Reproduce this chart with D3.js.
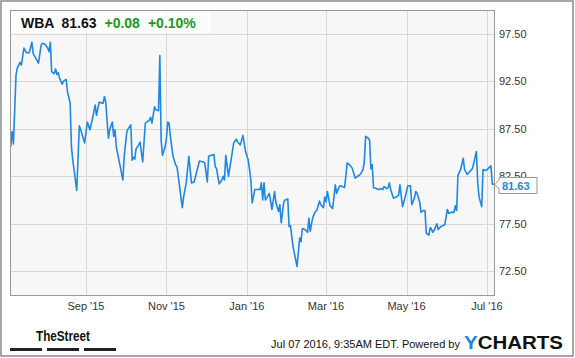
<!DOCTYPE html>
<html>
<head>
<meta charset="utf-8">
<script src="https://cdn.jsdelivr.net/npm/d3@7"></script>
<style>
  body { margin: 0; background: #fff; }
  svg { display: block; font-family: Arial, "Liberation Sans", sans-serif; }
</style>
</head>
<body>
<svg width="575" height="358"></svg>
<script>
// WBA daily close
const dates = [
  "2015-07-06","2015-07-07","2015-07-08","2015-07-10","2015-07-11","2015-07-13","2015-07-14","2015-07-16",
  "2015-07-17","2015-07-18","2015-07-20","2015-07-22","2015-07-23","2015-07-25","2015-07-27","2015-07-29",
  "2015-07-30","2015-08-01","2015-08-03","2015-08-04","2015-08-05","2015-08-06","2015-08-08","2015-08-09",
  "2015-08-10","2015-08-11","2015-08-12","2015-08-14","2015-08-15","2015-08-17","2015-08-18","2015-08-20",
  "2015-08-21","2015-08-22","2015-08-25","2015-08-27","2015-08-28","2015-08-31","2015-09-02","2015-09-04",
  "2015-09-06","2015-09-08","2015-09-09","2015-09-11","2015-09-13","2015-09-14","2015-09-15","2015-09-16",
  "2015-09-18","2015-09-19","2015-09-21","2015-09-22","2015-09-23","2015-09-24","2015-09-26","2015-09-29",
  "2015-09-30","2015-10-02","2015-10-03","2015-10-05","2015-10-06","2015-10-07","2015-10-08","2015-10-09",
  "2015-10-11","2015-10-12","2015-10-14","2015-10-16","2015-10-17","2015-10-19","2015-10-20","2015-10-21",
  "2015-10-23","2015-10-24","2015-10-26","2015-10-27","2015-10-28","2015-10-29","2015-10-31","2015-11-01",
  "2015-11-02","2015-11-03","2015-11-04","2015-11-06","2015-11-08","2015-11-09","2015-11-11","2015-11-13",
  "2015-11-14","2015-11-16","2015-11-18","2015-11-20","2015-11-22","2015-11-24","2015-11-26","2015-11-29",
  "2015-11-30","2015-12-02","2015-12-03","2015-12-05","2015-12-07","2015-12-08","2015-12-09","2015-12-11",
  "2015-12-13","2015-12-14","2015-12-15","2015-12-16","2015-12-18","2015-12-20","2015-12-22","2015-12-24",
  "2015-12-25","2015-12-27","2015-12-29","2015-12-31","2016-01-02","2016-01-03","2016-01-04","2016-01-05",
  "2016-01-07","2016-01-09","2016-01-11","2016-01-12","2016-01-13","2016-01-14","2016-01-15","2016-01-16",
  "2016-01-18","2016-01-20","2016-01-22","2016-01-23","2016-01-25","2016-01-26","2016-01-27","2016-01-29",
  "2016-01-30","2016-02-01","2016-02-02","2016-02-03","2016-02-05","2016-02-08","2016-02-10","2016-02-11",
  "2016-02-12","2016-02-14","2016-02-16","2016-02-17","2016-02-18","2016-02-19","2016-02-20","2016-02-22",
  "2016-02-23","2016-02-25","2016-02-26","2016-02-28","2016-02-29","2016-03-01","2016-03-02","2016-03-04",
  "2016-03-06","2016-03-08","2016-03-09","2016-03-11","2016-03-12","2016-03-15","2016-03-16","2016-03-17",
  "2016-03-19","2016-03-21","2016-03-23","2016-03-25","2016-03-27","2016-03-29","2016-03-30","2016-03-31",
  "2016-04-02","2016-04-03","2016-04-04","2016-04-05","2016-04-06","2016-04-08","2016-04-10","2016-04-12",
  "2016-04-13","2016-04-14","2016-04-16","2016-04-17","2016-04-18","2016-04-19","2016-04-21","2016-04-23",
  "2016-04-25","2016-04-26","2016-04-28","2016-04-30","2016-05-02","2016-05-04","2016-05-05","2016-05-07",
  "2016-05-08","2016-05-09","2016-05-11","2016-05-12","2016-05-14","2016-05-15","2016-05-16","2016-05-18",
  "2016-05-19","2016-05-20","2016-05-21","2016-05-22","2016-05-24","2016-05-25","2016-05-27","2016-05-30",
  "2016-06-01","2016-06-02","2016-06-04","2016-06-06","2016-06-07","2016-06-08","2016-06-09","2016-06-11",
  "2016-06-13","2016-06-14","2016-06-16","2016-06-18","2016-06-20","2016-06-21","2016-06-23","2016-06-24",
  "2016-06-25","2016-06-27","2016-06-28","2016-06-30","2016-07-01","2016-07-04","2016-07-05","2016-07-07"
];

const prices = [
  85.6, 87.2, 85.9, 93.2, 93.9, 94.5, 94.2, 96.0,
  95.7, 95.5, 95.5, 96.6, 95.4, 94.9, 94.4, 96.3,
  96.5, 96.4, 96.0, 95.6, 96.6, 93.5, 93.3, 93.8,
  93.2, 93.4, 92.8, 92.2, 92.5, 92.7, 91.4, 90.2,
  85.6, 84.2, 81.0, 87.8, 87.4, 86.0, 88.2, 87.4,
  88.6, 90.0, 88.9, 90.3, 90.2, 90.2, 90.9, 90.3,
  86.5, 87.4, 88.2, 86.7, 87.4, 85.6, 84.2, 82.1,
  84.6, 87.2, 87.5, 87.9, 84.2, 84.5, 84.3, 85.4,
  85.8, 86.1, 84.0, 88.1, 88.2, 88.4, 88.7, 88.1,
  89.8, 89.5, 89.4, 95.2, 86.3, 84.7, 85.6, 86.5,
  88.2, 88.1, 86.7, 84.6, 83.7, 83.5, 81.4, 79.2,
  80.3, 81.8, 84.6, 81.8, 81.9, 83.0, 84.1, 84.0,
  83.9, 81.9, 84.6, 84.7, 84.8, 83.5, 83.3, 81.7,
  82.1, 82.5, 82.1, 84.7, 82.5, 84.2, 86.0, 86.4,
  86.1, 85.8, 86.8, 85.1, 84.2, 83.2, 82.1, 79.7,
  81.1, 81.1, 81.1, 81.8, 80.0, 81.8, 80.0, 80.2,
  80.7, 79.0, 80.9, 79.7, 78.8, 79.5, 77.6, 79.8,
  80.0, 80.1, 77.2, 77.3, 75.1, 73.0, 76.0, 75.6,
  77.0, 76.9, 76.6, 78.1, 76.7, 77.5, 78.2, 78.8,
  78.9, 79.9, 79.5, 79.2, 80.3, 79.8, 80.9, 79.4,
  79.1, 81.6, 80.7, 81.4, 81.5, 81.3, 82.5, 83.9,
  83.7, 83.3, 82.3, 82.5, 82.7, 83.2, 84.0, 86.7,
  86.5, 86.3, 83.3, 83.7, 81.3, 81.2, 81.1, 81.2,
  81.1, 81.4, 81.2, 81.3, 81.8, 81.1, 80.2, 80.3,
  80.5, 81.6, 79.3, 80.3, 81.5, 81.5, 79.5, 80.2,
  80.9, 80.7, 79.8, 78.7, 78.9, 78.9, 76.5, 76.3,
  77.1, 76.9, 76.6, 76.8, 77.5, 76.9, 77.2, 77.4,
  79.0, 78.6, 78.7, 78.7, 79.4, 78.9, 82.6, 83.2,
  84.4, 83.2, 82.7, 83.0, 83.3, 83.9, 85.1, 81.8,
  80.3, 79.3, 83.2, 83.1, 83.2, 83.6, 81.7, 81.63
];

const yTicks = [72.5, 77.5, 82.5, 87.5, 92.5, 97.5];
const ticker = "WBA";
const lastPrice = "81.63";
const change = "+0.08";
const changePct = "+0.10%";
const stamp = "Jul 07 2016, 9:35AM EDT. Powered by";

const parse = d3.timeParse("%Y-%m-%d");
const data = dates.map((d, i) => ({ date: parse(d), value: prices[i] }));

const svg = d3.select("svg");
const plot = { left: 10, top: 10, right: 495, bottom: 295 };

const x = d3.scaleTime()
  .domain([new Date(2015, 6, 5, 10), new Date(2016, 6, 7, 2)])
  .range([plot.left, plot.right]);
const y = d3.scaleLinear().domain([70, 100]).range([plot.bottom, plot.top]);

// outer frame
svg.append("rect")
  .attr("x", 1).attr("y", 1).attr("width", 572).attr("height", 355)
  .attr("fill", "#fff").attr("stroke", "#8a8a8a").attr("stroke-width", 1.5);

// plot background
svg.append("rect")
  .attr("x", plot.left).attr("y", plot.top)
  .attr("width", plot.right - plot.left).attr("height", plot.bottom - plot.top)
  .attr("fill", "#f7f7f7");

const xTicks = x.ticks(d3.timeMonth.every(2));

svg.append("g")
  .selectAll("line.v")
  .data(xTicks)
  .join("line")
  .attr("x1", (d) => Math.round(x(d)) + 0.5).attr("x2", (d) => Math.round(x(d)) + 0.5)
  .attr("y1", plot.top).attr("y2", plot.bottom)
  .attr("stroke", "#d8d8d8");

svg.append("g")
  .selectAll("line.h")
  .data(yTicks)
  .join("line")
  .attr("x1", plot.left).attr("x2", plot.right)
  .attr("y1", (d) => Math.round(y(d)) + 0.5).attr("y2", (d) => Math.round(y(d)) + 0.5)
  .attr("stroke", "#d8d8d8");

// x labels
svg.append("g")
  .selectAll("text")
  .data(xTicks)
  .join("text")
  .attr("x", (d) => x(d))
  .attr("y", 310)
  .attr("text-anchor", "middle")
  .attr("font-size", 11)
  .attr("fill", "#333")
  .text(d3.timeFormat("%b '%y"));

// y labels
svg.append("g")
  .selectAll("text")
  .data(yTicks)
  .join("text")
  .attr("x", 499)
  .attr("y", (d) => y(d) + 4)
  .attr("font-size", 11)
  .attr("fill", "#333")
  .text(d3.format(".2f"));

// price line
const line = d3.line().x((d) => x(d.date)).y((d) => y(d.value));
svg.append("path")
  .datum(data)
  .attr("d", line)
  .attr("fill", "none")
  .attr("stroke", "#1e88e5")
  .attr("stroke-width", 1.6)
  .attr("stroke-linejoin", "round");

// plot border
svg.append("rect")
  .attr("x", plot.left + 0.5).attr("y", plot.top + 0.5)
  .attr("width", plot.right - plot.left - 1).attr("height", plot.bottom - plot.top)
  .attr("fill", "none").attr("stroke", "#999");

// header box
svg.append("rect")
  .attr("x", plot.left + 1).attr("y", plot.top + 1)
  .attr("width", 200).attr("height", 22)
  .attr("fill", "#fff").attr("opacity", 0.7);

const head = svg.append("text")
  .attr("x", 21).attr("y", 28)
  .attr("font-size", 14).attr("font-weight", "bold");
head.append("tspan").attr("fill", "#111").text(ticker);
head.append("tspan").attr("dx", 7).attr("fill", "#111").text(lastPrice);
head.append("tspan").attr("dx", 8).attr("fill", "#1a9a1a").text(change);
head.append("tspan").attr("dx", 8).attr("fill", "#1a9a1a").text(changePct);

// last price callout
const last = data[data.length - 1];
const ly = y(last.value);
svg.append("path")
  .attr("d", `M${plot.right},${ly} L499,${ly - 4.5} L499,${ly - 7} L537,${ly - 7} L537,${ly + 9} L499,${ly + 9} L499,${ly + 4.5} Z`)
  .attr("fill", "#fff").attr("stroke", "#999");
svg.append("text")
  .attr("x", 502).attr("y", ly + 5)
  .attr("font-size", 11).attr("font-weight", "bold")
  .attr("fill", "#1e88e5")
  .text(lastPrice);

// footer
svg.append("text")
  .attr("x", 36).attr("y", 341)
  .attr("font-family", "'Liberation Sans Narrow', 'Arial Narrow', Arial, sans-serif")
  .attr("font-size", 15).attr("font-weight", "bold")
  .attr("textLength", 54).attr("lengthAdjust", "spacingAndGlyphs")
  .attr("fill", "#111")
  .text("TheStreet");

svg.append("g")
  .selectAll("rect")
  .data([10, 47, 84])
  .join("rect")
  .attr("x", (d) => d).attr("y", 348)
  .attr("width", 32).attr("height", 3)
  .attr("fill", "#222");

svg.append("text")
  .attr("x", 460).attr("y", 348)
  .attr("text-anchor", "end")
  .attr("font-size", 11).attr("fill", "#111")
  .text(stamp);

const yc = svg.append("text")
  .attr("x", 464).attr("y", 349)
  .attr("font-size", 18).attr("font-weight", "bold")
  .attr("textLength", 99).attr("lengthAdjust", "spacingAndGlyphs");
yc.append("tspan").attr("fill", "#1e88e5").text("Y");
yc.append("tspan").attr("fill", "#111").text("CHARTS");
</script>
</body>
</html>
